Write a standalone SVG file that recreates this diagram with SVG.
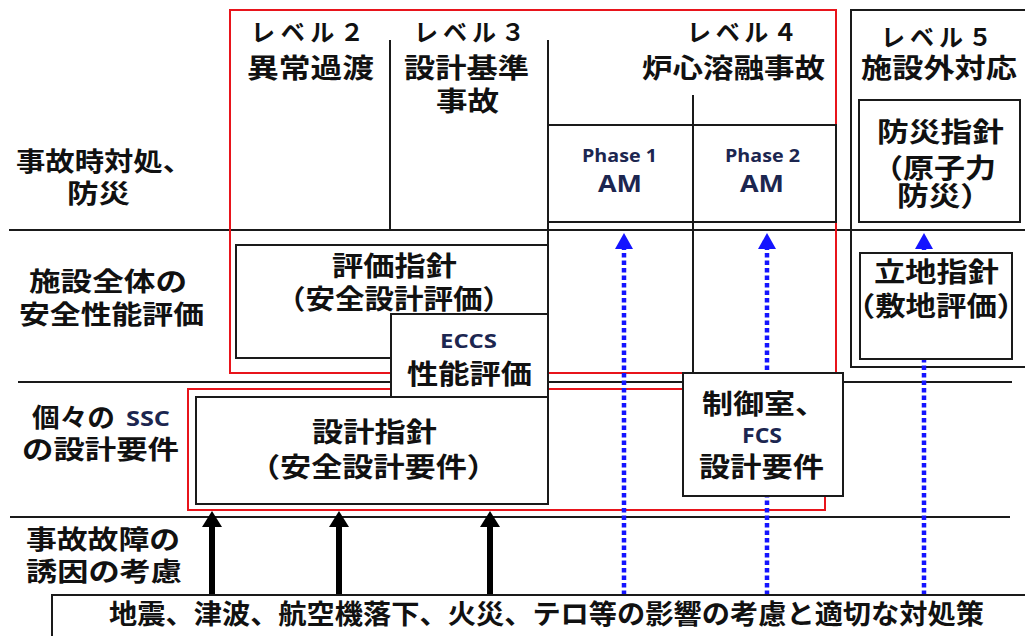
<svg xmlns="http://www.w3.org/2000/svg" width="1025" height="636" viewBox="0 0 1025 636">
<style>
.j{font-family:"Noto Sans CJK JP","Noto Sans CJK SC",sans-serif;font-weight:700;font-size:27px;fill:#111}
.k{font-size:24px}
.r{font-size:26px}
.e{font-family:"Open Sans","Liberation Sans",sans-serif;font-weight:700;fill:#1c2650}
.ln{stroke:#1a1a1a;stroke-width:2;fill:none}
.bx{fill:#fff;stroke:#1a1a1a;stroke-width:2}
.rd{fill:none;stroke:#e8141b;stroke-width:2}
.bl{stroke:#1414ff;stroke-width:4.5;stroke-dasharray:4.5 3;fill:none}
.bk{stroke:#000;stroke-width:6;fill:none}
.halt{font-feature-settings:"halt"}
</style>
<defs>
<marker id="ahK" markerUnits="userSpaceOnUse" markerWidth="16" markerHeight="20" refX="0" refY="10" orient="auto" viewBox="0 0 16 20"><path d="M0,0 L16,10 L0,20 z" fill="#000"/></marker>
<marker id="ahB" markerUnits="userSpaceOnUse" markerWidth="16" markerHeight="18" refX="0" refY="9" orient="auto" viewBox="0 0 16 18"><path d="M0,0 L16,9 L0,18 z" fill="#1414ff"/></marker>
</defs>
<rect width="1025" height="636" fill="#fff"/>
<g id="grid">
<line class="ln" x1="9" y1="230" x2="1025" y2="230"/>
<line class="ln" x1="18" y1="382" x2="1012" y2="382"/>
<line class="ln" x1="10" y1="517" x2="1010" y2="517"/>
<line class="ln" x1="390" y1="40" x2="390" y2="230"/>
<line class="ln" x1="548" y1="40" x2="548" y2="504"/>
<line class="ln" x1="693" y1="95" x2="693" y2="373"/>
<rect class="rd" x="230" y="10" width="606" height="363"/>
<rect class="rd" x="188" y="389" width="637" height="121"/>
<rect class="ln" x="851" y="10" width="190" height="357"/>
</g>
<g id="connectors">
<line class="bl" x1="624" y1="595" x2="624" y2="249" marker-end="url(#ahB)"/>
<line class="bl" x1="767" y1="595" x2="767" y2="249" marker-end="url(#ahB)"/>
<line class="bl" x1="924" y1="595" x2="924" y2="249" marker-end="url(#ahB)"/>
<line class="bk" x1="212" y1="595" x2="212" y2="527" marker-end="url(#ahK)"/>
<line class="bk" x1="339" y1="595" x2="339" y2="527" marker-end="url(#ahK)"/>
<line class="bk" x1="490" y1="595" x2="490" y2="527" marker-end="url(#ahK)"/>
</g>
<g id="row-labels">
<text class="j r" x="16" y="171" textLength="176" lengthAdjust="spacingAndGlyphs">事故時対処、</text>
<text class="j r" x="67" y="203" textLength="63" lengthAdjust="spacingAndGlyphs">防災</text>
<text class="j r" x="29" y="291" textLength="158" lengthAdjust="spacingAndGlyphs">施設全体の</text>
<text class="j r" x="19" y="324" textLength="185" lengthAdjust="spacingAndGlyphs">安全性能評価</text>
<text class="j r" x="32" y="427" textLength="83" lengthAdjust="spacingAndGlyphs">個々の</text>
<text class="e" x="126" y="426" font-size="21" textLength="44" lengthAdjust="spacingAndGlyphs">SSC</text>
<text class="j r" x="22" y="459" textLength="157" lengthAdjust="spacingAndGlyphs">の設計要件</text>
<text class="j r" x="26" y="549" textLength="154" lengthAdjust="spacingAndGlyphs">事故故障の</text>
<text class="j r" x="26" y="581" textLength="156" lengthAdjust="spacingAndGlyphs">誘因の考慮</text>
</g>
<g id="level2">
<text class="j k" x="251" y="41" textLength="113">レベル２</text>
<text class="j" x="247" y="78" textLength="127" lengthAdjust="spacingAndGlyphs">異常過渡</text>
</g>
<g id="level3">
<text class="j k" x="414" y="41" textLength="111">レベル３</text>
<text class="j" x="404" y="78" textLength="125" lengthAdjust="spacingAndGlyphs">設計基準</text>
<text class="j" x="436" y="111" textLength="63" lengthAdjust="spacingAndGlyphs">事故</text>
</g>
<g id="level4">
<text class="j k" x="687" y="41" textLength="110">レベル４</text>
<text class="j" x="642" y="78" textLength="183" lengthAdjust="spacingAndGlyphs">炉心溶融事故</text>
</g>
<g id="level5">
<text class="j k" x="881" y="46" textLength="111">レベル５</text>
<text class="j" x="861" y="78" textLength="156" lengthAdjust="spacingAndGlyphs">施設外対応</text>
</g>
<g id="phase-am">
<rect class="ln" x="548" y="125" width="288" height="97"/>
<text class="e" x="582" y="162" font-size="17" textLength="75" lengthAdjust="spacingAndGlyphs">Phase 1</text>
<text class="e" x="598" y="192" font-size="24" textLength="44" lengthAdjust="spacingAndGlyphs">AM</text>
<text class="e" x="725" y="162" font-size="17" textLength="75" lengthAdjust="spacingAndGlyphs">Phase 2</text>
<text class="e" x="740" y="192" font-size="24" textLength="44" lengthAdjust="spacingAndGlyphs">AM</text>
</g>
<g id="bousai-shishin">
<rect class="bx" x="859" y="100" width="161" height="122"/>
<text class="j" x="877" y="142" textLength="127" lengthAdjust="spacingAndGlyphs">防災指針</text>
<text class="j" x="872" y="178" textLength="124" lengthAdjust="spacingAndGlyphs">（原子力</text>
<text class="j" x="897" y="206" textLength="95" lengthAdjust="spacingAndGlyphs">防災）</text>
</g>
<g id="hyoka-shishin">
<rect class="bx" x="236" y="245" width="312" height="113"/>
<text class="j" x="332" y="276" textLength="125" lengthAdjust="spacingAndGlyphs">評価指針</text>
<text class="j" x="276" y="309" textLength="236" lengthAdjust="spacingAndGlyphs">（安全設計評価）</text>
</g>
<g id="eccs">
<rect class="bx" x="391" y="314" width="157" height="83"/>
<text class="e" x="440" y="348" font-size="20" textLength="57" lengthAdjust="spacingAndGlyphs">ECCS</text>
<text class="j" x="407" y="384" textLength="125" lengthAdjust="spacingAndGlyphs">性能評価</text>
</g>
<g id="ricchi-shishin">
<rect class="bx" x="860" y="253" width="152" height="106"/>
<text class="j" x="874" y="282" textLength="125" lengthAdjust="spacingAndGlyphs">立地指針</text>
<text class="j halt" x="860" y="316" textLength="152" lengthAdjust="spacingAndGlyphs">（敷地評価）</text>
</g>
<g id="sekkei-shishin">
<rect class="bx" x="196" y="397" width="352" height="107"/>
<text class="j" x="312" y="442" textLength="125" lengthAdjust="spacingAndGlyphs">設計指針</text>
<text class="j" x="249" y="477" textLength="249" lengthAdjust="spacingAndGlyphs">（安全設計要件）</text>
</g>
<g id="seigyoshitsu">
<rect class="bx" x="683" y="373" width="160" height="123"/>
<text class="j" x="702" y="414" textLength="124" lengthAdjust="spacingAndGlyphs">制御室、</text>
<text class="e" x="742" y="443" font-size="22" textLength="40" lengthAdjust="spacingAndGlyphs">FCS</text>
<text class="j" x="699" y="477" textLength="125" lengthAdjust="spacingAndGlyphs">設計要件</text>
</g>
<g id="external-events">
<rect class="bx" x="52" y="595" width="990" height="50"/>
<text class="j" x="109" y="624" font-size="26" textLength="875" lengthAdjust="spacingAndGlyphs">地震、津波、航空機落下、火災、テロ等の影響の考慮と適切な対処策</text>
</g>
</svg>
